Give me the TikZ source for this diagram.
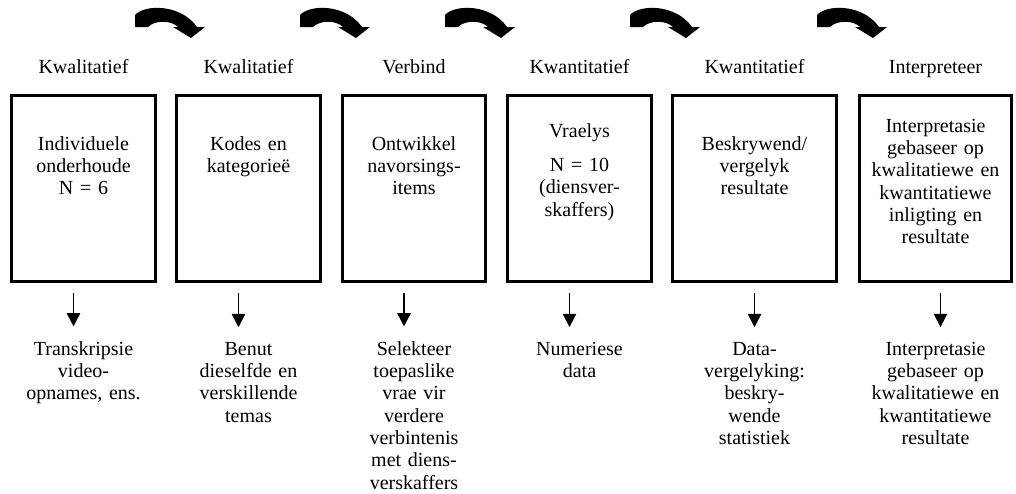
\documentclass[tikz,border=0pt]{standalone}
\usepackage{fontspec}
\setmainfont{Liberation Serif}
\usetikzlibrary{arrows.meta}

\tikzset{
  stage/.style={draw, line width=1.8pt, minimum height=111.6pt, inner sep=0pt},
  txt/.style={font=\fontsize{12pt}{13.4pt}\selectfont, text width=90pt, align=center, inner sep=0pt, anchor=base},
  down/.style={-{Triangle[width=8pt,length=8pt]}, line width=1pt, shorten <=6.3pt, shorten >=8.6pt},
  bendarrow/.pic={
    \fill (0,0) -- (0,-12) .. controls (10,-23) and (46,-23) .. (62,0) -- (70,0) -- (56,11) -- (38,0) -- (43,0) .. controls (36,-7) and (20,-7) .. (13,0) -- cycle;
  }
}

\begin{document}
\begin{tikzpicture}[x=0.6pt, y=-0.6pt]
        \useasboundingbox (0,0) rectangle (1016,493);

        \pic at (135,27) {bendarrow};
        \pic at (300,27) {bendarrow};
        \pic at (445,27) {bendarrow};
        \pic at (630,27) {bendarrow};
        \pic at (817,27) {bendarrow};

        \node[txt] (H1) at (83.5,73) {Kwalitatief};
        \node[txt] (H2) at (248.5,73) {Kwalitatief};
        \node[txt] (H3) at (414,73) {Verbind};
        \node[txt] (H4) at (579.5,73) {Kwantitatief};
        \node[txt] (H5) at (754.5,73) {Kwantitatief};
        \node[txt] (H6) at (935.5,73) {Interpreteer};

        \node[stage, minimum width=86.4pt] (B1) at (83.5,188) {};
        \node[stage, minimum width=86.4pt] (B2) at (248.5,188) {};
        \node[stage, minimum width=85.8pt] (B3) at (414,188) {};
        \node[stage, minimum width=86.4pt] (B4) at (579.5,188) {};
        \node[stage, minimum width=98.4pt] (B5) at (754.5,188) {};
        \node[stage, minimum width=91.2pt] (B6) at (935.5,188) {};

        \node[txt] (T1) at (83.5,150) {Individuele\\onderhoude\\N = 6};
        \node[txt] (T2) at (248.5,150) {Kodes en\\kategorieë};
        \node[txt] (T3) at (414,150) {Ontwikkel\\navorsings-\\items};
        \node[txt] (T4) at (579.5,137) {Vraelys\\[7.2pt]N = 10\\(diensver-\\skaffers)};
        \node[txt] (T5) at (754.5,150) {Beskrywend/\\vergelyk\\resultate};
        \node[txt] (T6) at (935.5,132) {Interpretasie\\gebaseer op\\kwalitatiewe en\\kwantitatiewe\\inligting en\\resultate};

        \node[txt] (N1) at (83.5,355) {Transkripsie\\video-\\opnames, ens.};
        \node[txt] (N2) at (248.5,355) {Benut\\dieselfde en\\verskillende\\temas};
        \node[txt] (N3) at (414,355) {Selekteer\\toepaslike\\vrae vir\\verdere\\verbintenis\\met diens-\\verskaffers};
        \node[txt] (N4) at (579.5,355) {Numeriese\\data};
        \node[txt] (N5) at (754.5,355) {Data-\\vergelyking:\\beskry-\\wende\\statistiek};
        \node[txt] (N6) at (935.5,355) {Interpretasie\\gebaseer op\\kwalitatiewe en\\kwantitatiewe\\resultate};

        \draw[down] ([xshift=-6pt]B1.south) -- ([xshift=-6pt]N1.north);
        \draw[down] ([xshift=-6pt]B2.south) -- ([xshift=-6pt]N2.north);
        \draw[down] ([xshift=-6pt]B3.south) -- ([xshift=-6pt]N3.north);
        \draw[down] ([xshift=-6pt]B4.south) -- ([xshift=-6pt]N4.north);
        \draw[down] (B5.south) -- (N5.north);
        \draw[down] ([xshift=3pt]B6.south) -- ([xshift=3pt]N6.north);
    \end{tikzpicture}
\end{document}
